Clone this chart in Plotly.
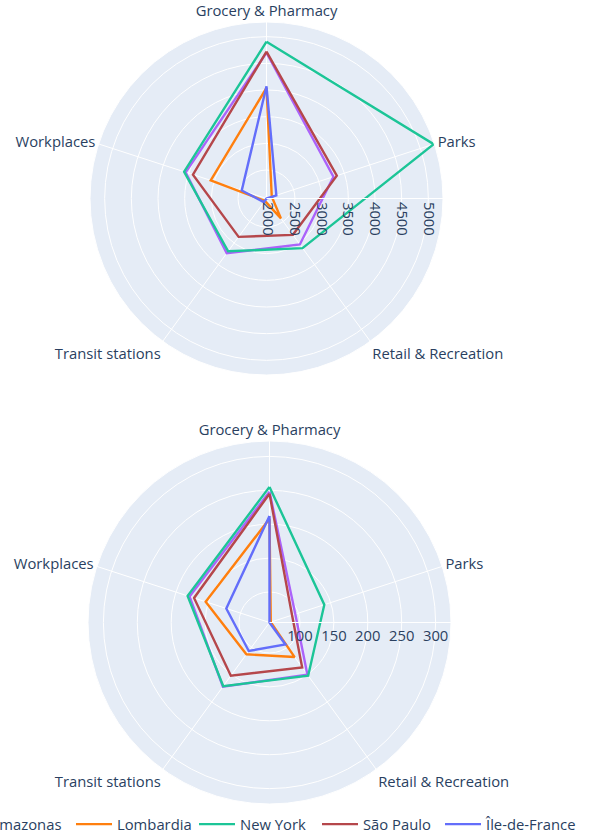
import plotly.graph_objects as go

# categories (angular axis)
categories = ["Grocery & Pharmacy", "Parks", "Retail & Recreation",
              "Transit stations", "Workplaces"]
regions = ["Amazonas", "Lombardia", "New York", "São Paulo", "Île-de-France"]
colors = ["#AB63FA", "#FF7F0E", "#1CC597", "#B5474B", "#636EFA"]

# upper chart values
amazonas_top = [4700, 3285, 3030, 3235, 3560]
lombardia_top = [4040, 2070, 2427, 2020, 3065]
new_york_top = [4906, 5262, 3115, 3190, 3590]
sao_paulo_top = [4719, 3352, 2808, 2855, 3416]
idf_top = [4070, 2160, 1966, 2050, 2454]

# lower chart values
amazonas_bot = [248, 95, 150, 172, 179]
lombardia_bot = [208, 57, 118, 113, 154]
new_york_bot = [255, 140, 152, 171, 182]
sao_paulo_bot = [245, 90, 137, 152, 172]
idf_bot = [212, 55, 95, 107, 122]

# radial tick labels
top_ticks = [2000, 2500, 3000, 3500, 4000, 4500, 5000]
bot_ticks = [100, 150, 200, 250, 300]

top_data = [amazonas_top, lombardia_top, new_york_top, sao_paulo_top, idf_top]
bot_data = [amazonas_bot, lombardia_bot, new_york_bot, sao_paulo_bot, idf_bot]

# which legend box each region goes in (the row runs off the left edge)
legend_of = {"Amazonas": "legend3", "Île-de-France": "legend2"}

fig = go.Figure()

for i, name in enumerate(regions):
    # close the polygon by repeating the first point
    fig.add_trace(go.Scatterpolar(
        r=top_data[i] + top_data[i][:1], theta=categories + categories[:1],
        mode="lines", name=name, line=dict(color=colors[i], width=2.4),
        subplot="polar", legendgroup=name,
        legend=legend_of.get(name, "legend")))
    fig.add_trace(go.Scatterpolar(
        r=bot_data[i] + bot_data[i][:1], theta=categories + categories[:1],
        mode="lines", name=name, line=dict(color=colors[i], width=2.4),
        subplot="polar2", legendgroup=name, showlegend=False))

W, H, B = 601, 836, 28
PH = H - B

fig.update_layout(
    width=W, height=H,
    template="plotly",
    font=dict(size=14.8, color="#2a3f5f"),
    margin=dict(l=0, r=0, t=0, b=B, autoexpand=False),
    polar=dict(
        domain=dict(x=[90 / W, 443 / W], y=[1 - 375 / PH, 1 - 22 / PH]),
        angularaxis=dict(direction="clockwise", rotation=90),
        radialaxis=dict(range=[1966, 5275], tickvals=top_ticks, tickangle=90),
    ),
    polar2=dict(
        domain=dict(x=[88 / W, 451 / W], y=[1 - 804 / PH, 1 - 441 / PH]),
        angularaxis=dict(direction="clockwise", rotation=90),
        radialaxis=dict(range=[55, 322.7], tickvals=bot_ticks, tickangle=0),
    ),
    legend3=dict(orientation="h", x=-56 / W, xanchor="left",
                 y=0, yanchor="top", itemwidth=36),
    legend=dict(orientation="h", x=71 / W, xanchor="left",
                y=0, yanchor="top", entrywidth=72, itemwidth=36),
    legend2=dict(orientation="h", x=440 / W, xanchor="left",
                 y=0, yanchor="top", itemwidth=36),
)

# drop the default page margin so the figure sits at the window corner
fig.write_html("out.html", config={"displayModeBar": False},
               post_script="document.body.style.margin='0px';")
